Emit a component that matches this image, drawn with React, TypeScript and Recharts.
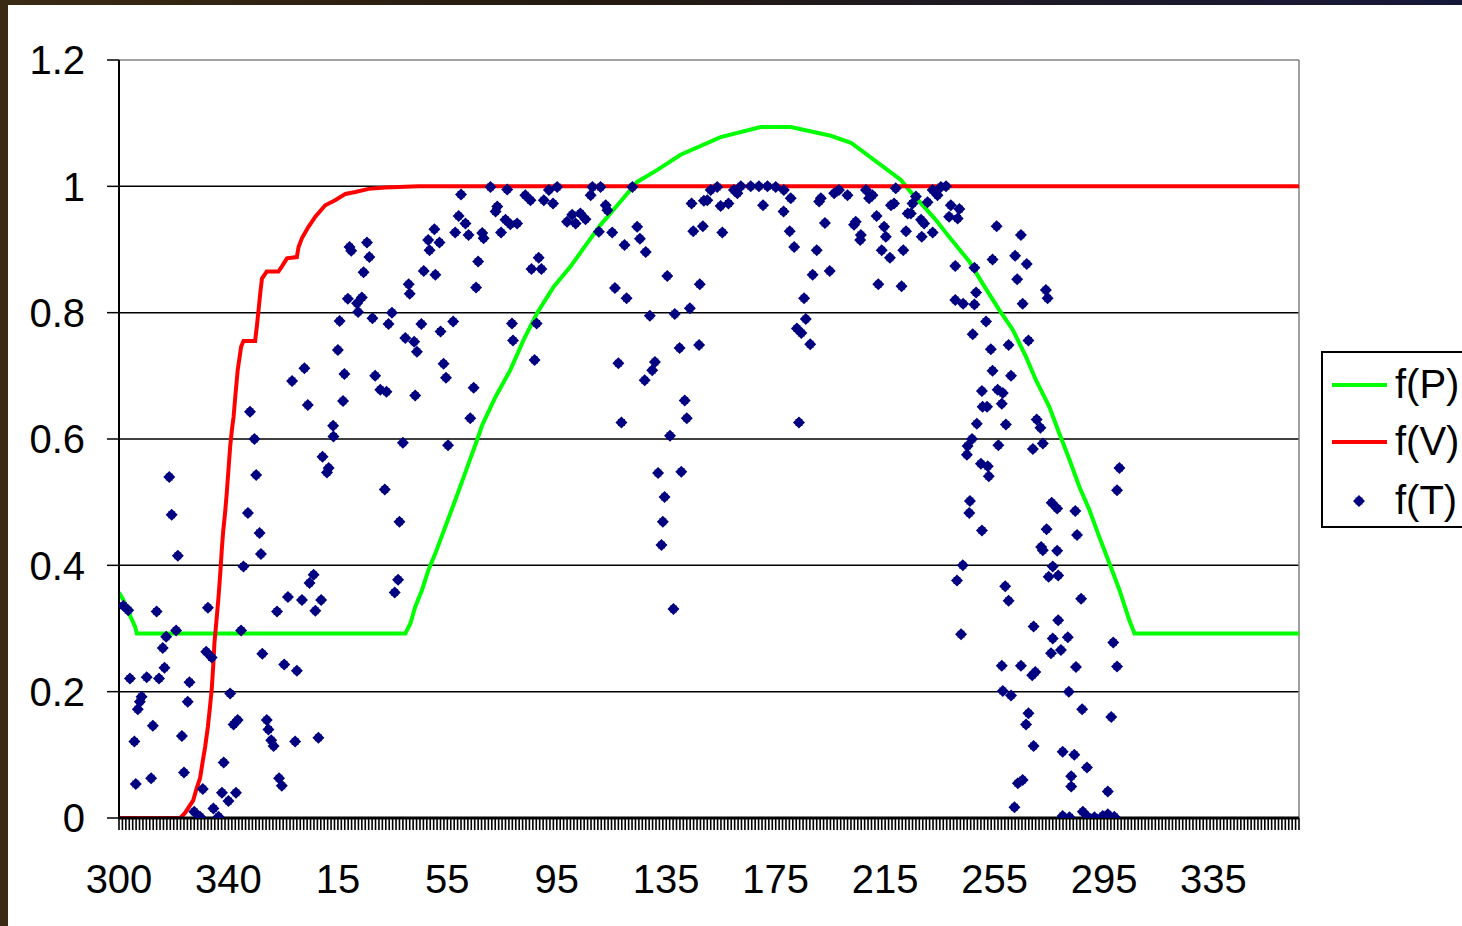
import { ComposedChart, Line, Scatter, XAxis, YAxis, CartesianGrid, ReferenceLine } from 'recharts';

// category axis: one tick per category, a label every 32 categories
const CATEGORY_COUNT = 345;
const LABEL_STEP = 32;
const xLabels = ['300', '340', '15', '55', '95', '135', '175', '215', '255', '295', '335'];
const yTicks = [0, 0.2, 0.4, 0.6, 0.8, 1, 1.2];

// f(P) - green curve, [category, value]
const fP: [number, number][] = [
  [0, 0.357], [1.3, 0.345], [3.2, 0.321], [4.7, 0.303], [5.2, 0.292], [83.7, 0.292], [85.2, 0.308],
  [86.6, 0.334], [88.6, 0.361], [90.5, 0.393], [92.5, 0.419], [95.4, 0.461], [98.3, 0.503],
  [102.2, 0.561], [104.8, 0.6], [106.2, 0.622], [110.1, 0.667], [114.4, 0.709], [118.3, 0.757],
  [122.3, 0.8], [127.1, 0.841], [132, 0.873], [136.9, 0.91], [140.8, 0.939], [145.7, 0.97],
  [151.5, 1.007], [157.4, 1.026], [164.2, 1.05], [175.9, 1.078], [187.6, 1.094], [196.4, 1.094],
  [208.1, 1.08], [214, 1.069], [222.7, 1.034], [228.6, 1.01], [231, 0.994], [234.5, 0.973],
  [238.8, 0.947], [242.7, 0.92], [248.6, 0.881], [252.5, 0.846], [257.4, 0.804], [261.3, 0.773],
  [265.2, 0.73], [268.1, 0.693], [272, 0.651], [274.9, 0.609], [277.9, 0.567], [280.8, 0.524],
  [283.7, 0.488], [286.6, 0.445], [289.6, 0.403], [292.5, 0.361], [295.4, 0.313], [296.9, 0.292],
  [345, 0.292],
];

// f(V) - red curve
const fV: [number, number][] = [
  [0, 0], [17.9, 0], [19.3, 0.008], [21.7, 0.028], [22.7, 0.047], [23.7, 0.063], [24.4, 0.087],
  [25.2, 0.113], [26, 0.145], [26.6, 0.176], [27.1, 0.203], [27.6, 0.245], [27.9, 0.277],
  [28.6, 0.319], [29.1, 0.35], [29.6, 0.387], [30.1, 0.429], [30.5, 0.456], [31, 0.482],
  [31.5, 0.514], [32, 0.551], [32.5, 0.588], [33, 0.614], [33.5, 0.635], [34, 0.667], [34.7, 0.709],
  [35.7, 0.746], [36.4, 0.755], [39.8, 0.755], [40.3, 0.778], [40.8, 0.804], [41.3, 0.831],
  [41.8, 0.854], [43.2, 0.865], [46.6, 0.865], [47.6, 0.873], [49.1, 0.886], [52, 0.888],
  [52.5, 0.904], [53.5, 0.918], [55.4, 0.936], [57.4, 0.952], [60.3, 0.97], [63.2, 0.978],
  [66.2, 0.988], [69.1, 0.991], [73, 0.996], [77.9, 0.998], [87.6, 1], [345, 1],
];

// f(T) - scattered points, split by part of the axis
const tWest: [number, number][] = [
  [39.6, 0.6], [62.7, 0.604], [83, 0.594], [96.2, 0.59], [14.7, 0.54], [59.5, 0.572], [61.3, 0.554],
  [60.8, 0.547], [40.1, 0.543], [77.7, 0.52], [15.4, 0.48], [37.7, 0.483], [82, 0.469], [41.1, 0.451],
  [41.5, 0.418], [17.2, 0.415], [36.4, 0.398], [56.9, 0.385], [55.7, 0.372], [81.6, 0.377],
  [80.6, 0.357], [49.4, 0.35], [53.5, 0.345], [59.1, 0.345], [57.4, 0.328], [46.2, 0.327], [26, 0.333],
  [11, 0.327], [1.3, 0.336], [2.7, 0.329], [16.7, 0.297], [13.8, 0.287], [35.7, 0.297], [12.8, 0.269],
  [25.5, 0.263], [27.1, 0.254], [41.9, 0.26], [48.3, 0.243], [52, 0.233], [13.3, 0.238], [3.2, 0.221],
  [8.1, 0.223], [11.7, 0.221], [20.6, 0.215], [32.5, 0.197], [6.6, 0.192], [6.1, 0.184], [5.5, 0.172],
  [20.1, 0.184], [9.9, 0.146], [18.4, 0.13], [4.5, 0.121], [33.5, 0.148], [34.7, 0.155], [43.2, 0.155],
  [43.7, 0.14], [44.5, 0.123], [45.2, 0.114], [51.5, 0.121], [58.3, 0.127], [30.6, 0.088], [19, 0.072],
  [9.4, 0.063], [4.9, 0.054], [46.8, 0.063], [47.6, 0.051], [24.5, 0.046], [30.1, 0.04], [34.2, 0.04],
  [32, 0.027], [22, 0.01], [23.7, 0.002], [27.6, 0.015], [29.1, 0.002],
  [108.6, 0.999], [113.5, 0.995], [100, 0.987], [110.6, 0.968], [110.1, 0.96], [99.3, 0.953],
  [101.3, 0.941], [113, 0.947], [114.4, 0.94], [92.2, 0.932], [98.3, 0.927], [102.2, 0.923],
  [106.2, 0.926], [106.6, 0.918], [111.7, 0.927], [90.4, 0.915], [90.8, 0.899], [93.7, 0.911],
  [72.5, 0.911], [67.4, 0.904], [67.9, 0.898], [73.2, 0.888], [105, 0.881], [71.5, 0.864], [89.1, 0.866],
  [92.5, 0.86], [84.7, 0.845], [85, 0.83], [104.4, 0.84], [66.9, 0.822], [71, 0.824], [69.6, 0.815],
  [69.9, 0.801], [79.8, 0.8], [64.5, 0.787], [74.1, 0.791], [78.8, 0.782], [88.4, 0.782], [97.7, 0.786],
  [94, 0.77], [114.9, 0.783], [83.7, 0.76], [86.3, 0.754], [87.1, 0.738], [115.2, 0.756], [64, 0.741],
  [54.2, 0.712], [50.6, 0.692], [65.9, 0.703], [74.9, 0.7], [76.4, 0.678], [78.2, 0.675], [94.9, 0.719],
  [95.6, 0.697], [103.7, 0.681], [55.2, 0.654], [65.5, 0.66], [86.6, 0.669], [38.3, 0.643],
  [62.6, 0.621], [102.7, 0.633],
];

const tCentre: [number, number][] = [
  [118.8, 0.986], [120.3, 0.978], [125.7, 0.994], [128.1, 0.999], [124.2, 0.978], [126.9, 0.973],
  [138.4, 0.999], [140.8, 0.999], [137.9, 0.986], [142.3, 0.97], [142.8, 0.962], [150.1, 0.999],
  [132.5, 0.955], [134.9, 0.957], [131, 0.944], [136.4, 0.948], [133.5, 0.941], [116.4, 0.941],
  [140.3, 0.928], [144.2, 0.927], [147.8, 0.907], [151.5, 0.936], [152.3, 0.917], [154, 0.896],
  [122.7, 0.887], [120.6, 0.869], [123.5, 0.869], [160.3, 0.858], [169.8, 0.845], [145, 0.839],
  [148.4, 0.823], [155.2, 0.795], [162.5, 0.798], [166.9, 0.807], [122.1, 0.783], [121.5, 0.725],
  [146, 0.72], [156.7, 0.722], [155.9, 0.709], [153.7, 0.693], [163.9, 0.744], [169.6, 0.749],
  [165.4, 0.661], [166, 0.633], [146.9, 0.626], [161.1, 0.605],
  [173, 0.994], [174.9, 0.999], [172, 0.978], [179.8, 0.994], [181.8, 1], [184.7, 1], [187.1, 1],
  [189.6, 1], [192, 0.999], [194.4, 0.994], [196.4, 0.981], [180.8, 0.989], [167.4, 0.973],
  [171, 0.977], [175.9, 0.969], [178.2, 0.973], [188.3, 0.97], [194.3, 0.96], [167.9, 0.929],
  [170.7, 0.937], [176.4, 0.927], [196.1, 0.929], [197.4, 0.904], [204, 0.899], [202.8, 0.86],
  [207.8, 0.866], [200.3, 0.823], [200.8, 0.79], [198.2, 0.775], [199.5, 0.768], [202.1, 0.75],
  [198.8, 0.626], [210.5, 0.994], [209.1, 0.989], [213, 0.986], [218.4, 0.994], [220.3, 0.986],
  [227.1, 0.997], [204.7, 0.976], [205.2, 0.981], [219.3, 0.981], [226.6, 0.973], [225.7, 0.97],
  [230.6, 0.957], [206.4, 0.942], [215.4, 0.944], [214.9, 0.939], [221.5, 0.953], [223.7, 0.936],
  [224.2, 0.92], [216.9, 0.923], [216.7, 0.915], [230.1, 0.929], [223, 0.899], [225.4, 0.887],
  [229.3, 0.899], [222, 0.845], [228.8, 0.842],
  [157.6, 0.546], [164.4, 0.548], [159.5, 0.508], [159, 0.469], [158.6, 0.432], [162.1, 0.331],
];

const tEast: [number, number][] = [
  [240.3, 0.999], [241.8, 1], [237.9, 0.994], [239.3, 0.986], [233, 0.984], [232, 0.973], [231.5, 0.957],
  [236.4, 0.975], [243.2, 0.97], [245.7, 0.964], [242.7, 0.952], [245.2, 0.949], [234.5, 0.947],
  [235.4, 0.941], [234.7, 0.92], [237.9, 0.927], [256.6, 0.937], [263.7, 0.923], [255.4, 0.884],
  [262, 0.89], [265.4, 0.877], [244.5, 0.874], [250.1, 0.871], [262.6, 0.853], [271, 0.836],
  [271.5, 0.823], [250.6, 0.832], [244.5, 0.82], [246.8, 0.814], [250.1, 0.813], [264.2, 0.814],
  [253.5, 0.786], [249.6, 0.766], [254.9, 0.742], [260.1, 0.749], [265.9, 0.756], [255.4, 0.708],
  [260.8, 0.7], [252.3, 0.676], [256.9, 0.678], [258.4, 0.673], [258.1, 0.656], [252.5, 0.651],
  [253.8, 0.651], [250.8, 0.624], [259.3, 0.623], [268.3, 0.631], [269.4, 0.618], [249.4, 0.6],
  [248.1, 0.589], [247.9, 0.575], [257.1, 0.59], [270.1, 0.593], [267.2, 0.584], [252, 0.561],
  [254, 0.557], [292.5, 0.554],
  [254.3, 0.541], [291.8, 0.519], [248.8, 0.502], [248.6, 0.483], [272.7, 0.499], [274.3, 0.49],
  [279.6, 0.486], [252.3, 0.455], [271.2, 0.457], [280.1, 0.448], [269.6, 0.429], [270.1, 0.424],
  [274.3, 0.423], [246.7, 0.4], [245, 0.376], [273, 0.398], [271.8, 0.382], [274.6, 0.384],
  [259.1, 0.367], [260.1, 0.344], [281.3, 0.347], [274.6, 0.313], [267.4, 0.303], [246.2, 0.291],
  [273, 0.284], [277.4, 0.286], [275.4, 0.266], [272.5, 0.261], [290.7, 0.278], [258.1, 0.241],
  [263.7, 0.241], [267.9, 0.231], [267, 0.226], [279.8, 0.239], [291.8, 0.24], [258.4, 0.201],
  [260.8, 0.194], [277.7, 0.2], [281.6, 0.172], [265.9, 0.166], [265.2, 0.148], [290.1, 0.16],
  [267.4, 0.114], [275.9, 0.105], [279.3, 0.1], [283, 0.08], [262.8, 0.055], [264.2, 0.06],
  [278.4, 0.066], [278.4, 0.05], [289.1, 0.042], [261.8, 0.017], [275.9, 0.003], [277.9, 0.001],
  [281.8, 0.01], [283.2, 0.002], [285.2, 0.001], [287.6, 0.003], [289.1, 0.006], [291, 0.002],
];

const toRows = (pts: [number, number][]) => pts.map(([x, y]) => ({ x, y }));

const FONT = '"Liberation Sans", Arial, sans-serif';
const NAVY = '#000080';
const categoryTicks = Array.from({ length: CATEGORY_COUNT + 1 }, (_, i) => i);

// Excel-like diamond marker: a diamond with blunted sides
const markerPath = (cx: number, cy: number) => {
  const r = 6;
  const s = 3.5;
  return (
    `M${cx},${cy - r}L${cx + r},${cy}L${cx},${cy + r}L${cx - r},${cy}Z` +
    `M${cx - s},${cy - s}H${cx + s}V${cy + s}H${cx - s}Z`
  );
};

const Diamond = (props: any) => {
  const { cx, cy } = props;
  if (cx == null || cy == null) return <g />;
  return <path d={markerPath(cx, cy)} fill={NAVY} />;
};

const XTick = (props: any) => {
  const { x, y, payload } = props;
  const v = payload.value;
  if (v % LABEL_STEP !== 0) return <g />;
  return (
    <text x={x} y={y} dy="0.71em" textAnchor="middle" fontSize={40} fontFamily={FONT} fill="#000">
      {xLabels[v / LABEL_STEP]}
    </text>
  );
};

const legendRows = [
  { name: 'f(P)', color: '#00ff00', kind: 'line', top: 32 },
  { name: 'f(V)', color: '#ff0000', kind: 'line', top: 89 },
  { name: 'f(T)', color: NAVY, kind: 'marker', top: 148 },
];

const App = () => {
  const pData = toRows(fP);
  const vData = toRows(fV);
  const tData = toRows([...tWest, ...tCentre, ...tEast]);

  return (
    <div
      style={{
        position: 'absolute',
        left: 0,
        top: 0,
        width: 1462,
        height: 926,
        overflow: 'hidden',
        background: 'linear-gradient(90deg, #3b2a14 0%, #241a10 40%, #16183a 100%)',
      }}
    >
      <div style={{ position: 'absolute', left: 8, top: 5, width: 1454, height: 921, background: '#fff' }} />
      <div style={{ position: 'absolute', left: 0, top: 0 }}>
        <ComposedChart width={1462} height={926} margin={{ top: 60, right: 163, bottom: 0, left: 0 }}>
          <CartesianGrid
            vertical={false}
            horizontalValues={[0.2, 0.4, 0.6, 0.8, 1]}
            stroke="#000"
            strokeWidth={1.5}
          />
          <ReferenceLine y={1.2} stroke="#808080" strokeWidth={1.5} />
          <ReferenceLine x={CATEGORY_COUNT} stroke="#808080" strokeWidth={1.5} />
          <XAxis
            type="number"
            dataKey="x"
            domain={[0, CATEGORY_COUNT]}
            ticks={categoryTicks}
            interval={0}
            height={108}
            tickSize={12}
            tickMargin={35}
            tick={<XTick />}
            tickLine={{ stroke: '#000', strokeWidth: 1.6 }}
            axisLine={{ stroke: '#000', strokeWidth: 3 }}
            allowDataOverflow
          />
          <YAxis
            type="number"
            domain={[0, 1.2]}
            ticks={yTicks}
            width={119}
            tickSize={12}
            tickMargin={22}
            tick={{ fontSize: 40, fontFamily: FONT, fill: '#000' }}
            tickLine={{ stroke: '#000', strokeWidth: 1.5 }}
            axisLine={{ stroke: '#000', strokeWidth: 2 }}
            allowDataOverflow
          />
          <Line
            data={pData}
            dataKey="y"
            type="linear"
            stroke="#00ff00"
            strokeWidth={4}
            dot={false}
            isAnimationActive={false}
          />
          <Line
            data={vData}
            dataKey="y"
            type="linear"
            stroke="#ff0000"
            strokeWidth={4}
            dot={false}
            isAnimationActive={false}
          />
          <Scatter data={tData} dataKey="y" shape={Diamond} isAnimationActive={false} />
        </ComposedChart>
      </div>
      <div
        style={{
          position: 'absolute',
          left: 1321,
          top: 351,
          width: 170,
          height: 177,
          border: '2px solid #000',
          background: '#fff',
          boxSizing: 'border-box',
          fontFamily: FONT,
        }}
      >
        {legendRows.map((r) => (
          <div key={r.name}>
            {r.kind === 'line' ? (
              <div
                style={{ position: 'absolute', left: 9, top: r.top - 2, width: 55, height: 4, background: r.color }}
              />
            ) : (
              <svg style={{ position: 'absolute', left: 28, top: r.top - 8 }} width={16} height={16}>
                <path d={markerPath(8, 8)} fill={r.color} />
              </svg>
            )}
            <div
              style={{
                position: 'absolute',
                left: 72,
                top: r.top - 24,
                height: 46,
                lineHeight: '46px',
                fontSize: 40,
                color: '#000',
                whiteSpace: 'nowrap',
              }}
            >
              {r.name}
            </div>
          </div>
        ))}
      </div>
    </div>
  );
};

export default App;
